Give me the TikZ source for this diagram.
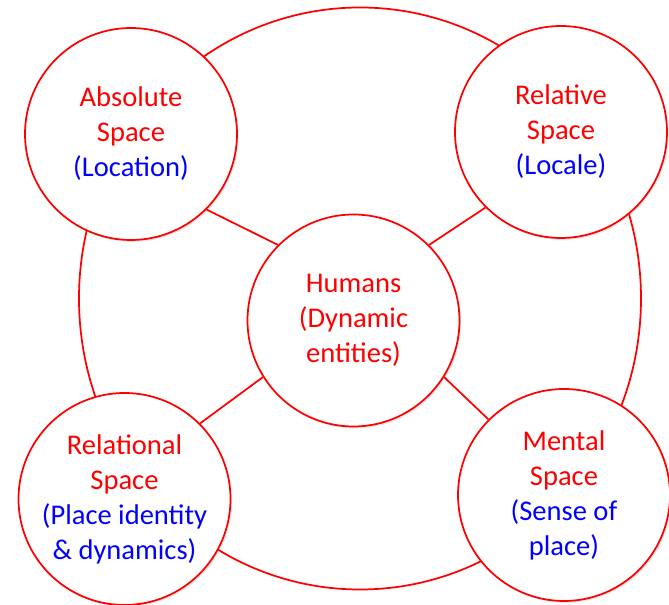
\documentclass[tikz,border=0pt]{standalone}
\usepackage{fontspec}
\setmainfont{Carlito}
\usepackage{xcolor}
\usepackage{tikz}
\usetikzlibrary{shadows}

\begin{document}
\begin{tikzpicture}[x=0.75pt, y=-0.75pt,
    spacebox/.style={circle, draw=red, line width=1.3pt, fill=white,
      minimum size=159pt, inner sep=0pt, align=center, text=red,
      font=\fontsize{21.4}{26.3}\selectfont,
      drop shadow={opacity=0.18, shadow xshift=1.2pt, shadow yshift=-1.5pt}},
    link/.style={draw=red, line width=1.3pt}]
    \useasboundingbox (0,0) rectangle (669,605);

    % Outer ring behind the circles
    \draw[red, line width=1.3pt] (360,298.5) ellipse (210.75pt and 218.25pt);

    % The five circles
    \node[spacebox] (absolute) at (131,134)
      {Absolute\\Space\\\textcolor{blue}{(Location)}};
    \node[spacebox] (relative) at (561,132)
      {Relative\\Space\\\textcolor{blue}{(Locale)}};
    \node[spacebox] (humans) at (353.5,320.5)
      {Humans\\(Dynamic\\entities)};
    \node[spacebox] (relational) at (124.5,499)
      {Relational\\Space\\\textcolor{blue}{(Place identity}\\\textcolor{blue}{\& dynamics)}};
    \node[spacebox] (mental) at (564,495)
      {Mental\\Space\\\textcolor{blue}{(Sense of}\\\textcolor{blue}{place)}};

    % Spokes from the centre
    \draw[link] (absolute.south east) -- (humans.north west);
    \draw[link] (relative.south west) -- (humans.north east);
    \draw[link] (relational.45) -- (humans.212);
    \draw[link] (mental.135) -- (humans.328);
\end{tikzpicture}
\end{document}
